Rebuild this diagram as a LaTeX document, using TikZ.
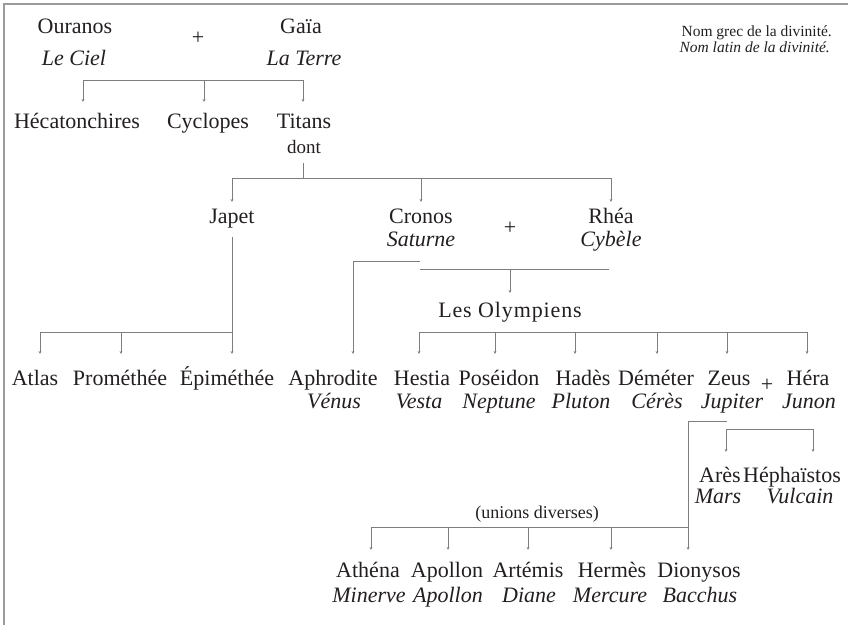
\documentclass[tikz,border=0pt]{standalone}
\usepackage{fontspec}
\setmainfont{Liberation Serif}
\usetikzlibrary{arrows.meta}
\definecolor{ink}{RGB}{35,31,32}
\definecolor{linegray}{RGB}{125,125,125}
\definecolor{framegray}{RGB}{155,155,155}
\tikzset{
  god/.style={anchor=base,inner sep=0pt,text=ink,text height=15pt,text depth=4pt,font=\fontsize{22}{26}\selectfont},
  lat/.style={god,font=\fontsize{22}{26}\selectfont\itshape},
  smalltext/.style={anchor=base,inner sep=0pt,text=ink,font=\fontsize{15.5}{18}\selectfont},
  donttext/.style={anchor=base,inner sep=0pt,text=ink,font=\fontsize{19}{22}\selectfont},
  unionstext/.style={anchor=base,inner sep=0pt,text=ink,font=\fontsize{18}{22}\selectfont},
  rowtwo/.style={outer ysep=11pt},
  rowthree/.style={outer ysep=6pt},
  rowolymp/.style={outer ysep=9pt},
  rowfour/.style={outer ysep=16pt},
  rowares/.style={outer ysep=15pt},
  rowlast/.style={outer ysep=12pt},
  link/.style={draw=linegray,line width=1pt},
  arr/.style={link,-{Stealth[length=3pt,width=2.8pt]}},
  framestyle/.style={draw=framegray,line width=1.3pt}
}
\begin{document}
\begin{tikzpicture}[x=1pt,y=-1pt]
\useasboundingbox (0,0) rectangle (848,625);
\draw[framestyle] (4,625) -- (4,4) -- (848,4);

% legend
\node[smalltext,anchor=base east] (legG) at (832,36) {Nom grec de la divinité.};
\node[smalltext,anchor=base east,font=\fontsize{15.5}{18}\selectfont\itshape] (legL) at (830,52) {Nom latin de la divinité.};

% generation 1
\node[god] (ouranos) at (75,33) {Ouranos};
\node[lat] (ciel) at (74,65) {Le Ciel};
\node[god] (plusA) at (198,44) {+};
\node[god] (gaia) at (301,33) {Gaïa};
\node[lat] (terre) at (304,65) {La Terre};

% generation 2
\node[god,rowtwo] (hecat) at (77,128) {Hécatonchires};
\node[god,rowtwo] (cyclo) at (208,128) {Cyclopes};
\node[god,rowtwo] (titans) at (304,128) {Titans};
\node[donttext] (dont) at (304,153) {dont};

% generation 3
\node[god,rowthree] (japet) at (232,223) {Japet};
\node[god,rowthree] (cronos) at (421,223) {Cronos};
\node[lat] (saturne) at (421,246) {Saturne};
\node[god] (plusB) at (510,234) {+};
\node[god,rowthree] (rhea) at (611,223) {Rhéa};
\node[lat] (cybele) at (611,246) {Cybèle};
\node[god,rowolymp] (olymp) at (510,317) {\addfontfeature{LetterSpace=4}Les Olympiens};

% generation 4
\node[god,rowfour] (atlas) at (35,385) {Atlas};
\node[god,rowfour] (prom) at (120,385) {Prométhée};
\node[god,rowfour] (epim) at (227,385) {Épiméthée};
\node[god,rowfour] (aphro) at (333,385) {Aphrodite};
\node[lat] (venus) at (334,408) {Vénus};
\node[god,rowfour] (hestia) at (422,385) {Hestia};
\node[lat] (vesta) at (419,408) {Vesta};
\node[god,rowfour] (posei) at (499,385) {Poséidon};
\node[lat] (neptune) at (499,408) {Neptune};
\node[god,rowfour] (hades) at (583,385) {Hadès};
\node[lat] (pluton) at (581,408) {Pluton};
\node[god,rowfour] (demeter) at (656,385) {Déméter};
\node[lat] (ceres) at (657,408) {Cérès};
\node[god,rowfour] (zeus) at (729,385) {Zeus};
\node[lat] (jupiter) at (732,408) {Jupiter};
\node[god] (plusC) at (767,391) {+};
\node[god,rowfour] (hera) at (808,385) {Héra};
\node[lat] (junon) at (809,408) {Junon};

% generation 5
\node[god,rowares] (ares) at (720,482) {Arès};
\node[lat] (mars) at (718,503) {Mars};
\node[god,rowares] (heph) at (792,482) {Héphaïstos};
\node[lat] (vulcain) at (800,503) {Vulcain};
\node[unionstext] (unions) at (537,518) {(unions diverses)};
\node[god,rowlast] (athena) at (368,577) {Athéna};
\node[lat] (minerve) at (369,602) {Minerve};
\node[god,rowlast] (apollon) at (447,577) {Apollon};
\node[lat] (apollonL) at (448,602) {Apollon};
\node[god,rowlast] (artemis) at (528,577) {Artémis};
\node[lat] (diane) at (529,602) {Diane};
\node[god,rowlast] (hermes) at (612,577) {Hermès};
\node[lat] (mercure) at (610,602) {Mercure};
\node[god,rowlast] (dionysos) at (699,577) {Dionysos};
\node[lat] (bacchus) at (700,602) {Bacchus};

% junction coordinates
\coordinate (kA) at (83,80);
\coordinate (kB) at (204,80);
\coordinate (kC) at (303,80);
\coordinate (tTop) at (303,163);
\coordinate (tL) at (232,178);
\coordinate (tM) at (421,178);
\coordinate (tR) at (611,178);
\coordinate (jTop) at (232,237);
\coordinate (jL) at (40,332);
\coordinate (jM) at (121,332);
\coordinate (jR) at (232,332);
\coordinate (cA) at (420,261);
\coordinate (cB) at (353,261);
\coordinate (uL) at (420,269);
\coordinate (uR) at (609,269);
\coordinate (uM) at (510,269);
\coordinate (oA) at (419,332);
\coordinate (oB) at (495,332);
\coordinate (oC) at (575,332);
\coordinate (oD) at (657,332);
\coordinate (oE) at (727,332);
\coordinate (oF) at (807,332);
\coordinate (zA) at (727,421);
\coordinate (zB) at (688,421);
\coordinate (zC) at (688,527);
\coordinate (dA) at (371,527);
\coordinate (dB) at (448,527);
\coordinate (dC) at (528,527);
\coordinate (dD) at (611,527);
\coordinate (hL) at (726,429);
\coordinate (hR) at (813,429);

% Ouranos + Gaia
\draw[link] (kA) -- (kC);
\draw[arr] (kA) -- (kA |- hecat.north);
\draw[arr] (kB) -- (kB |- cyclo.north);
\draw[arr] (kC) -- (kC |- titans.north);

% Titans
\draw[link] (tTop) -- (tTop |- tL);
\draw[link] (tL) -- (tR);
\draw[arr] (tL) -- (tL |- japet.north);
\draw[arr] (tM) -- (tM |- cronos.north);
\draw[arr] (tR) -- (tR |- rhea.north);

% Japet
\draw[arr] (jTop) -- (jR |- epim.north);
\draw[link] (jL) -- (jR);
\draw[arr] (jL) -- (jL |- atlas.north);
\draw[arr] (jM) -- (jM |- prom.north);

% Cronos -> Aphrodite
\draw[arr] (cA) -- (cB) -- (cB |- aphro.north);

% Cronos + Rhea -> Olympiens
\draw[link] (uL) -- (uR);
\draw[arr] (uM) -- (uM |- olymp.north);

% Olympiens
\draw[link] (oA) -- (oF);
\draw[arr] (oA) -- (oA |- hestia.north);
\draw[arr] (oB) -- (oB |- posei.north);
\draw[arr] (oC) -- (oC |- hades.north);
\draw[arr] (oD) -- (oD |- demeter.north);
\draw[arr] (oE) -- (oE |- zeus.north);
\draw[arr] (oF) -- (oF |- hera.north);

% Zeus (unions diverses)
\draw[arr] (zA) -- (zB) -- (zB |- dionysos.north);
\draw[link] (zC) -- (dA);
\draw[arr] (dA) -- (dA |- athena.north);
\draw[arr] (dB) -- (dB |- apollon.north);
\draw[arr] (dC) -- (dC |- artemis.north);
\draw[arr] (dD) -- (dD |- hermes.north);

% Zeus + Hera
\draw[link] (hL) -- (hR);
\draw[arr] (hL) -- (hL |- ares.north);
\draw[arr] (hR) -- (hR |- heph.north);
\end{tikzpicture}
\end{document}
